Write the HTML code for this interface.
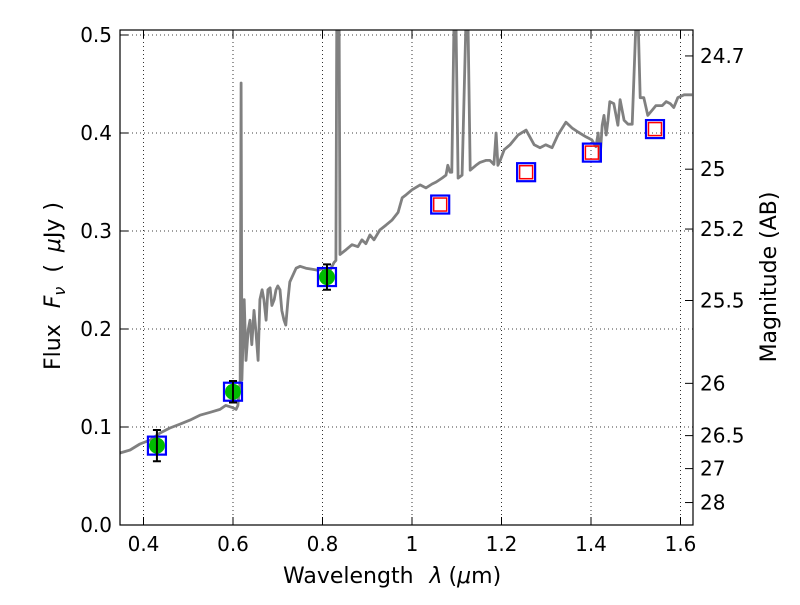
<!DOCTYPE html>
<html><head><meta charset="utf-8"><style>
body{margin:0;background:#fff;}
svg text{font-family:"DejaVu Sans","Liberation Sans",sans-serif;fill:#000;}
</style></head><body>
<svg id="chart" width="800" height="600">
<defs><clipPath id="clip"><rect x="120" y="30" width="573" height="495"/></clipPath></defs>
<rect x="0" y="0" width="800" height="600" fill="#fff"/>
<g id="grid"></g>
<g id="spec" clip-path="url(#clip)"></g>
<g id="pts"></g>
<rect x="120" y="30" width="573" height="495" fill="none" stroke="#000" stroke-width="1.2"/>
<g id="axes"></g>
<text x="283" y="583" font-size="22">Wavelength<tspan dx="16" font-style="italic">λ</tspan><tspan dx="6">(</tspan><tspan font-style="italic">μ</tspan>m)</text>
<text transform="translate(60,370) rotate(-90)" font-size="22">Flux<tspan dx="16" font-style="italic">F</tspan><tspan font-style="italic" font-size="16" dy="5">ν</tspan><tspan dy="-5" dx="14">(</tspan><tspan dx="12" font-style="italic">μ</tspan>Jy<tspan dx="8">)</tspan></text>
<text transform="translate(776,277) rotate(-90)" font-size="22" text-anchor="middle">Magnitude (AB)</text>
</svg>
<script>
const specLam=[0.3475,0.370,0.392,0.415,0.437,0.459,0.482,0.504,0.526,0.549,0.571,0.584,0.598,0.607,0.611,0.616,0.618,0.620,0.625,0.629,0.634,0.638,0.642,0.647,0.651,0.656,0.660,0.665,0.669,0.674,0.678,0.683,0.687,0.692,0.696,0.700,0.705,0.709,0.714,0.718,0.723,0.727,0.741,0.750,0.763,0.777,0.790,0.803,0.817,0.826,0.830,0.832,0.837,0.839,0.853,0.866,0.879,0.888,0.897,0.906,0.915,0.928,0.942,0.955,0.969,0.978,0.987,1.000,1.018,1.031,1.045,1.054,1.067,1.076,1.080,1.085,1.089,1.094,1.098,1.103,1.112,1.121,1.125,1.130,1.143,1.152,1.165,1.174,1.183,1.188,1.192,1.197,1.206,1.219,1.237,1.255,1.273,1.286,1.299,1.313,1.326,1.344,1.358,1.371,1.389,1.402,1.411,1.416,1.420,1.425,1.429,1.434,1.438,1.442,1.451,1.460,1.465,1.474,1.483,1.492,1.501,1.505,1.510,1.518,1.527,1.536,1.545,1.559,1.568,1.577,1.585,1.594,1.608,1.626];
const specFlux=[0.0735,0.0765,0.0827,0.0867,0.0939,0.099,0.103,0.107,0.112,0.115,0.118,0.122,0.120,0.118,0.122,0.148,0.451,0.148,0.230,0.168,0.199,0.209,0.184,0.219,0.199,0.168,0.230,0.240,0.230,0.209,0.240,0.242,0.224,0.230,0.240,0.244,0.240,0.219,0.209,0.204,0.230,0.248,0.262,0.264,0.262,0.261,0.260,0.262,0.260,0.268,0.270,0.52,0.52,0.276,0.281,0.286,0.284,0.291,0.287,0.296,0.291,0.301,0.306,0.311,0.319,0.334,0.337,0.342,0.347,0.344,0.348,0.350,0.354,0.357,0.367,0.360,0.360,0.52,0.52,0.354,0.357,0.52,0.52,0.362,0.367,0.370,0.372,0.372,0.368,0.400,0.367,0.372,0.383,0.388,0.398,0.403,0.388,0.385,0.388,0.385,0.398,0.411,0.405,0.401,0.396,0.393,0.386,0.400,0.372,0.408,0.418,0.398,0.413,0.432,0.430,0.408,0.434,0.413,0.409,0.409,0.52,0.52,0.436,0.436,0.418,0.423,0.428,0.428,0.432,0.430,0.426,0.436,0.439,0.439];
const obsLam=[0.43,0.60,0.81];
const obsFlux=[0.081,0.136,0.253];
const obsErr=[0.016,0.011,0.013];
const modelLam=[0.43,0.60,0.81,1.063,1.255,1.402,1.543];
const modelFlux=[0.081,0.136,0.253,0.327,0.360,0.380,0.404];
const predLam=[1.063,1.255,1.402,1.543];
const predFlux=[0.327,0.360,0.380,0.404];
const xTicks=[0.4,0.6,0.8,1,1.2,1.4,1.6];
const xTickLabels=["0.4","0.6","0.8","1","1.2","1.4","1.6"];
const yTicks=[0,0.1,0.2,0.3,0.4,0.5];
const yTickLabels=["0.0","0.1","0.2","0.3","0.4","0.5"];
const magTicks=[24.7,25,25.2,25.5,26,26.5,27,28];
const magLabels=["24.7","25","25.2","25.5","26","26.5","27","28"];

const NS="http://www.w3.org/2000/svg";
const X=v=>412+(v-1)*447.5;
const Y=f=>525-f*980;
function mk(tag,attrs,parent){const e=document.createElementNS(NS,tag);for(const k in attrs)e.setAttribute(k,attrs[k]);parent.appendChild(e);return e;}
const grid=document.getElementById('grid'),axes=document.getElementById('axes');
xTicks.forEach((v,i)=>{
  const g=mk('line',{x1:X(v),x2:X(v),y1:30,y2:525,stroke:'#000','stroke-width':0.8,'stroke-dasharray':'1,3'},grid);
  
  
  const t=mk('line',{x1:X(v),x2:X(v),y1:525,y2:517,stroke:'#000'},axes);
  
  
  const t2=mk('line',{x1:X(v),x2:X(v),y1:30,y2:38,stroke:'#000'},axes);
  
  
  const l=mk('text',{x:X(v),y:551,'font-size':20,'text-anchor':'middle'},axes);l.textContent=xTickLabels[i];
  
  
});
yTicks.forEach((v,i)=>{
  const g=mk('line',{x1:120,x2:693,y1:Y(v),y2:Y(v),stroke:'#000','stroke-width':0.8,'stroke-dasharray':'1,3'},grid);
  
  
  const t=mk('line',{x1:120,x2:128,y1:Y(v),y2:Y(v),stroke:'#000'},axes);
  
  
  const l=mk('text',{x:112,y:Y(v)+7,'font-size':20,'text-anchor':'end'},axes);l.textContent=yTickLabels[i];
  
  
});
magTicks.forEach((m,i)=>{
  const f=Math.pow(10,-0.4*(m-23.9));
  const t=mk('line',{x1:685,x2:693,y1:Y(f),y2:Y(f),stroke:'#000'},axes);
  
  
  const l=mk('text',{x:700,y:Y(f)+7,'font-size':20},axes);l.textContent=magLabels[i];
  
  
});
const spec=document.getElementById('spec');
const d=specLam.map((l,i)=>(i?'L':'M')+X(l).toFixed(1)+','+Y(specFlux[i]).toFixed(1)).join(' ');
const p=mk('path',{d:d,fill:'none',stroke:'#808080','stroke-width':2.8,'stroke-linejoin':'round'},spec);


const pts=document.getElementById('pts');
modelLam.forEach((l,i)=>{
  const r=mk('rect',{x:X(l)-9,y:Y(modelFlux[i])-9,width:18,height:18,fill:'none',stroke:'#0000ff','stroke-width':2.2},pts);
  
  
});
predLam.forEach((l,i)=>{
  const r=mk('rect',{x:X(l)-6.5,y:Y(predFlux[i])-6.5,width:13,height:13,fill:'none',stroke:'#ff0000','stroke-width':1.5},pts);
  
  
});
obsLam.forEach((l,i)=>{
  const c=mk('circle',{cx:X(l),cy:Y(obsFlux[i]),r:8,fill:'#00bb00'},pts);
  
  
  const y1=Y(obsFlux[i]+obsErr[i]),y2=Y(obsFlux[i]-obsErr[i]),x=X(l);
  const e=mk('path',{d:`M${x},${y1}L${x},${y2}M${x-4},${y1}L${x+4},${y1}M${x-4},${y2}L${x+4},${y2}`,stroke:'#000','stroke-width':2,fill:'none'},pts);
  
  
});
</script>
</body></html>
